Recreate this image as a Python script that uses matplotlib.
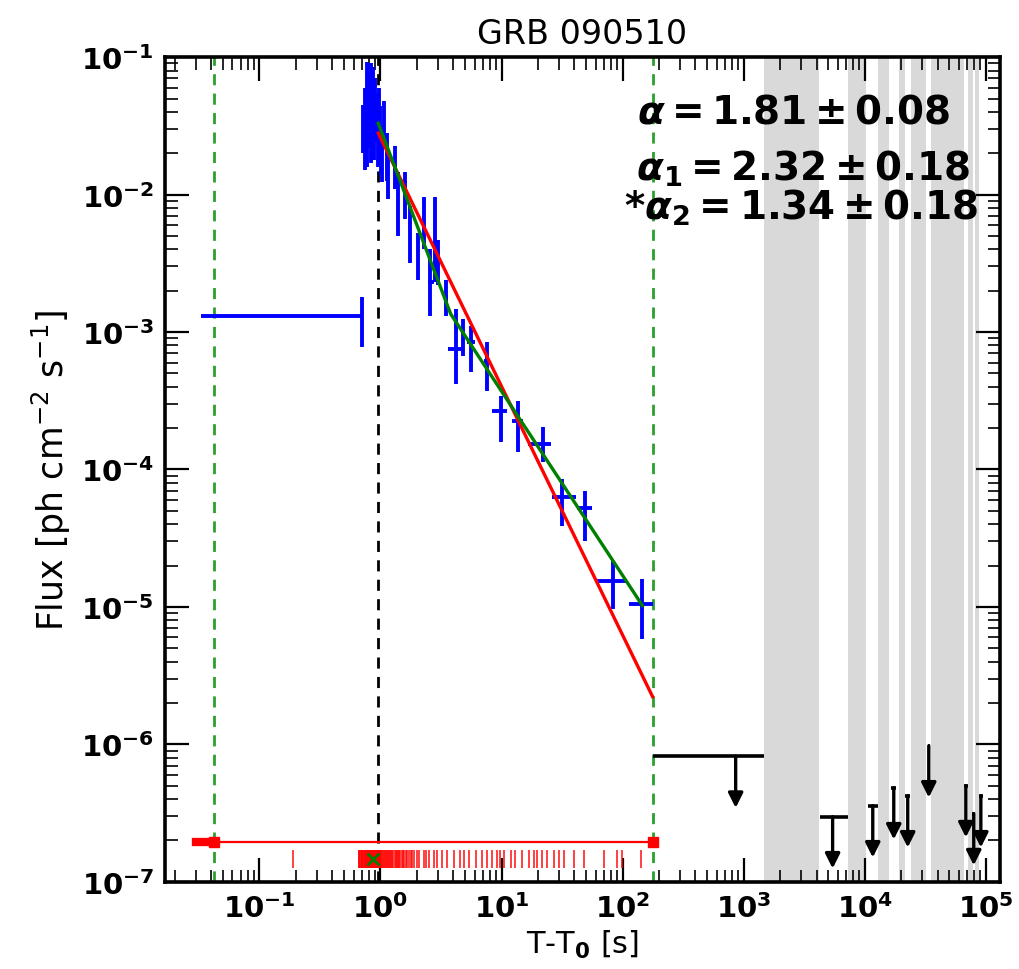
import numpy as np
import matplotlib
matplotlib.use("Agg")
import matplotlib.pyplot as plt
from matplotlib.ticker import FixedLocator, FixedFormatter, LogLocator, NullFormatter

# LAT light curve bins: time, time bin edges, flux, flux range
t_bin = [0.70, 0.72, 0.74, 0.75, 0.77, 0.78, 0.79, 0.81, 0.83, 0.84, 0.85, 0.87,
         0.89, 0.91, 0.93, 0.95, 0.97, 0.99, 1.01, 1.04, 1.08, 1.13, 1.16, 1.31,
         1.41, 1.61, 1.77, 2.06, 2.27, 2.59, 2.85, 3.01, 3.45, 4.17, 4.85, 5.55,
         7.66, 9.84, 13.6, 22.2, 31.9, 49.4, 82.6, 146.0]
t_lo = [0.033, 0.71, 0.73, 0.74, 0.76, 0.77, 0.78, 0.80, 0.82, 0.83, 0.84, 0.86,
        0.88, 0.90, 0.92, 0.94, 0.96, 0.98, 1.00, 1.03, 1.07, 1.12, 1.15, 1.30,
        1.40, 1.59, 1.75, 2.03, 2.24, 2.45, 2.82, 2.98, 3.30, 3.64, 4.80, 5.20,
        7.20, 8.40, 12.3, 16.4, 26.3, 42.4, 59.8, 112.0]
t_hi = [0.70, 0.73, 0.75, 0.76, 0.78, 0.79, 0.80, 0.82, 0.84, 0.85, 0.86, 0.88,
        0.90, 0.92, 0.94, 0.96, 0.98, 1.00, 1.02, 1.05, 1.09, 1.14, 1.17, 1.32,
        1.42, 1.63, 1.79, 2.09, 2.30, 2.75, 2.88, 3.04, 3.60, 4.80, 4.90, 6.00,
        8.10, 11.2, 15.0, 25.4, 40.9, 56.4, 109.0, 177.0]
flux = [1.31e-3, 0.030, 0.022, 0.040, 0.025, 0.070, 0.055, 0.035, 0.065, 0.028,
        0.045, 0.060, 0.030, 0.050, 0.038, 0.026, 0.042, 0.030, 0.022, 0.0181,
        0.034, 0.020, 0.0141, 0.0158, 0.0085, 0.0099, 0.0052, 0.0036, 0.0062,
        0.0023, 0.0047, 0.0032, 0.0018, 7.5e-4, 9.2e-4, 8.5e-4, 6.2e-4, 2.66e-4,
        2.25e-4, 1.53e-4, 6.3e-5, 5.2e-5, 1.55e-5, 1.05e-5]
flux_lo = [7.8e-4, 0.020, 0.015, 0.025, 0.016, 0.048, 0.035, 0.022, 0.045, 0.017,
           0.030, 0.040, 0.018, 0.032, 0.024, 0.016, 0.028, 0.020, 0.014, 0.0123,
           0.023, 0.0125, 0.0093, 0.011, 0.0050, 0.0066, 0.0032, 0.0024, 0.0040,
           0.0013, 0.0023, 0.0022, 0.0013, 4.2e-4, 6.7e-4, 5.1e-4, 3.7e-4,
           1.58e-4, 1.34e-4, 1.13e-4, 3.9e-5, 3.0e-5, 9.7e-6, 5.8e-6]
flux_hi = [1.80e-3, 0.045, 0.034, 0.060, 0.036, 0.092, 0.080, 0.050, 0.090, 0.042,
           0.065, 0.085, 0.045, 0.070, 0.055, 0.040, 0.060, 0.044, 0.032, 0.0254,
           0.048, 0.028, 0.0214, 0.0225, 0.0146, 0.0146, 0.0082, 0.0053, 0.0096,
           0.0040, 0.0096, 0.0047, 0.0024, 1.47e-3, 1.24e-3, 1.11e-3, 8.5e-4,
           3.43e-4, 3.15e-4, 2.04e-4, 8.5e-5, 7.0e-5, 2.16e-5, 1.6e-5]

# upper limits after the burst
ul_t = [859, 5430, 11650, 17370, 22650, 33800, 68400, 79500, 91000]
ul_t_lo = [177, 4250, 10600, 16600, 21700, 33300, 65500, 77500, 88000]
ul_t_hi = [1463, 7240, 12800, 18200, 23700, 34300, 71400, 81500, 94000]
ul_flux = [8.2e-7, 2.97e-7, 3.57e-7, 4.83e-7, 4.22e-7, 9.75e-7, 5.0e-7, 3.13e-7, 4.22e-7]

# intervals with the source out of view
gap_start = [1463, 7240, 12800, 19100, 24000, 35100, 71000, 81100]
gap_end = [4170, 10190, 15800, 21400, 31900, 65800, 78100, 87500]

# arrival times of the photons above threshold
photon_t = [0.19, 0.66, 0.67, 0.68, 0.69, 0.70, 0.71, 0.72, 0.73, 0.74, 0.75, 0.76,
            0.77, 0.78, 0.79, 0.80, 0.81, 0.82, 0.83, 0.84, 0.85, 0.86, 0.87, 0.88,
            0.89, 0.90, 0.91, 0.92, 0.93, 0.94, 0.95, 0.96, 0.97, 0.98, 0.99, 1.00,
            1.02, 1.04, 1.06, 1.08, 1.10, 1.12, 1.14, 1.16, 1.18, 1.20, 1.22, 1.25,
            1.28, 1.31, 1.34, 1.37, 1.40, 1.43, 1.46, 1.50, 1.54, 1.58, 1.62, 1.66,
            1.72, 1.78, 1.83, 1.90, 2.01, 2.10, 2.28, 2.40, 2.51, 2.76, 2.94, 3.23,
            3.56, 4.04, 4.58, 4.88, 5.37, 6.10, 6.92, 7.62, 8.37, 9.21, 9.81, 10.45,
            11.9, 13.0, 14.8, 16.8, 18.5, 19.7, 21.7, 23.8, 27.0, 29.8, 32.7, 39.6,
            47.9, 70.0, 90.3, 99.3, 141.0]

# fit results
t_start, t_end = 0.042, 177.0
t_trig = 0.96
alpha, norm = 1.81, 0.028
alpha1, alpha2, norm_b, t_break = 2.32, 1.34, 0.033, 3.8

fig = plt.figure(figsize=(10.2, 9.7), dpi=100)
ax = fig.add_axes([0.162, 0.090, 0.818, 0.850])
ax.set_xscale('log')
ax.set_yscale('log')
ax.set_xlim(0.0167, 1.3e5)
ax.set_ylim(1e-7, 1e-1)

for a, b in zip(gap_start, gap_end):
    ax.axvspan(a, b, color='#d9d9d9', lw=0, zorder=0)

ax.axvline(t_start, color='#2ca02c', ls='--', lw=2, dashes=(4, 3), zorder=1)
ax.axvline(t_end, color='#2ca02c', ls='--', lw=2, dashes=(4, 3), zorder=1)
ax.axvline(t_trig, color='k', ls='--', lw=2, dashes=(4, 3), zorder=1)

t = np.array(t_bin)
f = np.array(flux)
ax.errorbar(t, f,
            xerr=[t - np.array(t_lo), np.array(t_hi) - t],
            yerr=[f - np.array(flux_lo), np.array(flux_hi) - f],
            fmt='none', ecolor='blue', elinewidth=2.8, capsize=0, zorder=3)

# simple power law
tt = np.array([t_trig, t_end])
ax.plot(tt, norm * (tt / t_trig) ** -alpha, color='red', lw=2.4, zorder=4)

# broken power law
tb = np.array([t_trig, t_break, 146.0])
fb = np.where(tb <= t_break,
              norm_b * (tb / t_trig) ** -alpha1,
              norm_b * (t_break / t_trig) ** -alpha1 * (tb / t_break) ** -alpha2)
ax.plot(tb, fb, color='green', lw=2.4, zorder=5)

# upper limits
ut = np.array(ul_t)
ax.errorbar(ut, ul_flux, xerr=[ut - np.array(ul_t_lo), np.array(ul_t_hi) - ut],
            fmt='none', ecolor='k', elinewidth=2.6, capsize=0, zorder=3)
for x, y in zip(ul_t, ul_flux):
    ax.annotate('', xy=(x, y * 0.42), xytext=(x, y),
                arrowprops=dict(arrowstyle='-|>', color='k', lw=2.4,
                                mutation_scale=22, shrinkA=0, shrinkB=0),
                zorder=3)

# analysis window and photon arrival times
ax.plot([0.030, t_end], [1.95e-7, 1.95e-7], color='red', lw=1.6, zorder=3)
ax.plot([0.030, t_start], [1.95e-7, 1.95e-7], color='red', lw=6, zorder=3)
ax.plot([t_start, t_end], [1.95e-7, 1.95e-7], 's', color='red', ms=7, zorder=3)
ax.plot(photon_t, [1.47e-7] * len(photon_t), '|', color='red', ms=13, mew=1.3,
        alpha=0.8, zorder=3)
ax.plot([0.87], [1.47e-7], 'x', color='green', ms=9, mew=2, zorder=4)

# ticks
ax.tick_params(which='both', direction='in', top=True, right=True)
ax.tick_params(which='major', length=17, width=1.6)
ax.tick_params(which='minor', length=9, width=1.2)
xt = [1e-1, 1e0, 1e1, 1e2, 1e3, 1e4, 1e5]
ax.xaxis.set_major_locator(FixedLocator(xt))
ax.xaxis.set_major_formatter(FixedFormatter(
    [r'$\mathbf{10^{%d}}$' % k for k in range(-1, 6)]))
yt = [1e-7, 1e-6, 1e-5, 1e-4, 1e-3, 1e-2, 1e-1]
ax.yaxis.set_major_locator(FixedLocator(yt))
ax.yaxis.set_major_formatter(FixedFormatter(
    [r'$\mathbf{10^{%d}}$' % k for k in range(-7, 0)]))
for axis in (ax.xaxis, ax.yaxis):
    axis.set_minor_locator(LogLocator(base=10, subs=np.arange(2, 10), numticks=20))
    axis.set_minor_formatter(NullFormatter())
ax.tick_params(axis='both', which='major', labelsize=21, pad=8)

for s in ax.spines.values():
    s.set_linewidth(2.6)

ax.set_title('GRB 090510', fontsize=24, pad=10)
ax.set_xlabel(r'T-T$_\mathbf{0}$ [s]', fontsize=22, labelpad=4)
ax.set_ylabel(r'Flux [ph cm$^{-2}$ s$^{-1}$]', fontsize=25, labelpad=6)

ax.text(0.940, 0.921, r'$\boldsymbol{\alpha}\mathbf{= 1.81 \pm 0.08}$',
        transform=ax.transAxes, ha='right', va='baseline', fontsize=28)
ax.text(0.964, 0.852, r'$\boldsymbol{\alpha}_\mathbf{1}\mathbf{= 2.32 \pm 0.18}$',
        transform=ax.transAxes, ha='right', va='baseline', fontsize=28)
ax.text(0.974, 0.804, r'$\mathbf{*}\boldsymbol{\alpha}_\mathbf{2}\mathbf{= 1.34 \pm 0.18}$',
        transform=ax.transAxes, ha='right', va='baseline', fontsize=28)

fig.savefig('out.png', dpi=100)
